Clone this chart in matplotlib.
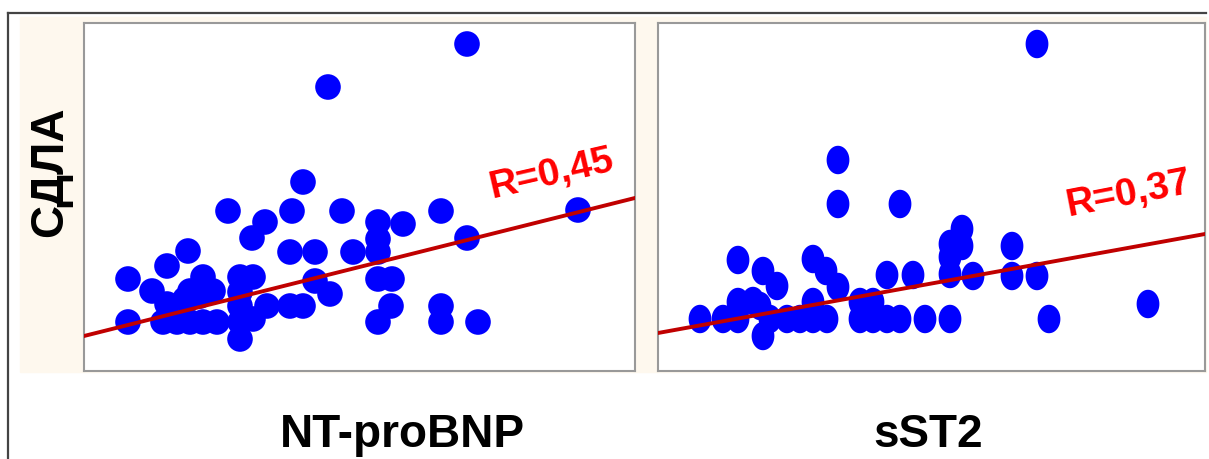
"""Scatter of СДЛА against NT-proBNP and sST2 with regression lines"""
import numpy as np
import matplotlib.pyplot as plt
from matplotlib.path import Path
from matplotlib.patches import Rectangle
from matplotlib.lines import Line2D

plt.rcParams['font.family'] = ['Liberation Sans', 'DejaVu Sans']

# ------------
# Data (relative units, no scale shown on the chart)
# ------------
ntprobnp_x = [383, 244, 219, 144, 208, 258, 357, 494, 181, 168, 294, 319, 294, 383,
              104, 206, 231, 269, 294, 83, 44, 119, 156, 169, 231, 294, 308, 68,
              106, 129, 246, 83, 101, 116, 156, 183, 206, 219, 307, 357, 44, 79,
              93, 106, 119, 133, 156, 169, 294, 357, 394, 156, 156]
ntprobnp_y = [327, 284, 189, 160, 160, 160, 160, 161, 149, 133, 149, 147, 132, 133,
              120, 119, 119, 119, 119, 105, 92, 94, 94, 94, 90, 92, 92, 80,
              80, 80, 77, 67, 72, 75, 65, 65, 65, 65, 65, 65, 49, 49,
              49, 49, 49, 49, 49, 52, 49, 49, 49, 32, 79]

sst2_x = [379, 180, 180, 242, 304, 292, 304, 354, 80, 155, 105, 168, 292, 119,
          180, 229, 255, 292, 315, 354, 379, 80, 95, 155, 202, 215, 42, 65,
          80, 112, 129, 142, 155, 169, 202, 215, 229, 242, 267, 292, 391, 490,
          105, 102]
sst2_y = [327, 211, 167, 167, 142, 127, 125, 125, 111, 112, 100, 100, 114, 85,
          84, 96, 96, 97, 95, 95, 95, 69, 70, 69, 69, 69, 52, 52,
          52, 52, 52, 52, 52, 52, 52, 52, 52, 52, 52, 52, 52, 67,
          35, 65]

# regression lines: (intercept, slope) and correlation labels
fit_ntprobnp = (35, 0.2505)
fit_sst2 = (38, 0.181)
r_labels = ["R=0,45", "R=0,37"]
x_labels = ["NT-proBNP", "sST2"]
y_label = "СДЛА"

# ---------------
# Figure
# ---------------
W, H = 1209, 460
fig = plt.figure(figsize=(W / 100, H / 100), dpi=100)

# cream background and the outer frame
fig.patches.append(Rectangle((20 / W, 1 - 373 / H), 1186 / W, 355 / H,
                             transform=fig.transFigure, color='#fef8ee', zorder=-5))
fig.lines.append(Line2D([8 / W, 1206 / W], [1 - 14 / H, 1 - 14 / H],
                        transform=fig.transFigure, color='#444444', lw=1.6, zorder=-4))
fig.lines.append(Line2D([8 / W, 8 / W], [1 - 14 / H, 0],
                        transform=fig.transFigure, color='#444444', lw=1.6, zorder=-4))

ax1 = fig.add_axes([84 / W, 1 - 372 / H, 551 / W, 348 / H])
ax2 = fig.add_axes([658 / W, 1 - 372 / H, 547 / W, 348 / H])

t = np.linspace(0, 2 * np.pi, 60)
ellipse = Path(np.column_stack([0.8 * np.cos(t), np.sin(t)]), closed=True)

panels = [
    (ax1, ntprobnp_x, ntprobnp_y, fit_ntprobnp, 'o', 340, 551, (468, 198), 13),
    (ax2, sst2_x, sst2_y, fit_sst2, ellipse, 420, 547, (470, 178), 11),
]
for i, (ax, xs, ys, fit, mk, size, xmax, rpos, rrot) in enumerate(panels):
    ax.scatter(xs, ys, s=size, marker=mk, color='#0000ff', edgecolors='none', zorder=2)
    xl = np.array([0, xmax])
    ax.plot(xl, fit[0] + fit[1] * xl, color='#c00000', lw=2.8, zorder=3)
    ax.text(rpos[0], rpos[1], r_labels[i], color='#ff0000', fontsize=28,
            fontweight='bold', rotation=rrot, ha='center', va='center')
    ax.set_xlim(0, xmax)
    ax.set_ylim(0, 348)
    ax.set_xticks([])
    ax.set_yticks([])
    ax.set_facecolor('white')
    for sp in ax.spines.values():
        sp.set_color('#999999')
        sp.set_linewidth(1.5)

fig.text(402 / W, 13 / H, x_labels[0], fontsize=33, fontweight='bold',
         ha='center', va='baseline')
fig.text(928 / W, 13 / H, x_labels[1], fontsize=33, fontweight='bold',
         ha='center', va='baseline')
fig.text(50 / W, 1 - 172 / H, y_label, fontsize=33, fontweight='bold',
         rotation=90, ha='center', va='center')

fig.savefig('out.png', dpi=100)
